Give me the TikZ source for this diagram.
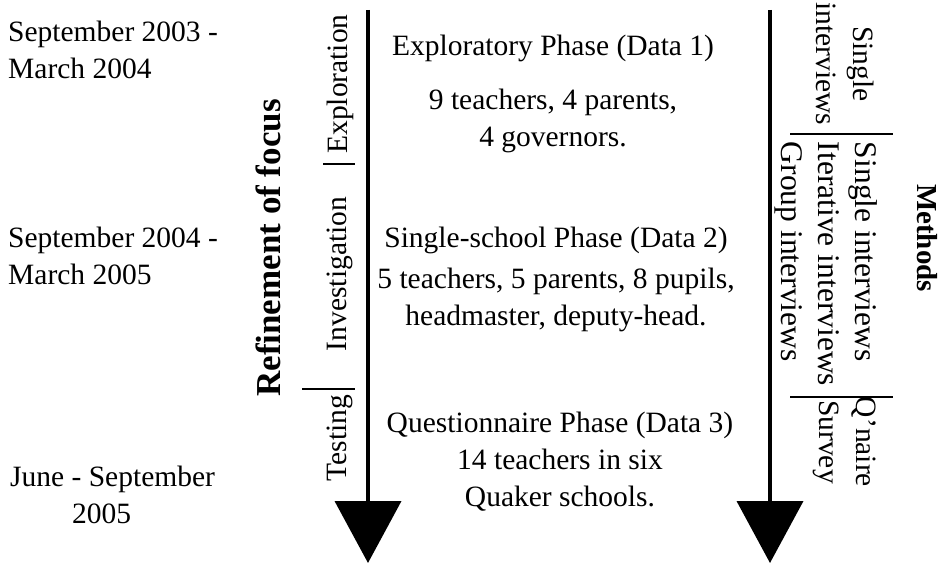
\documentclass[tikz,border=0pt]{standalone}
\usepackage{fontspec}
\setmainfont{Liberation Serif}
\usetikzlibrary{positioning,arrows.meta}

\tikzset{
  lbl/.style={font=\fontsize{29.5}{37}\selectfont, inner sep=0pt, align=center},
  upword/.style={lbl, rotate=90},
  downword/.style={lbl, rotate=-90},
  heading/.style={font=\fontsize{30}{38}\selectfont\bfseries, inner sep=0pt},
  bar/.style={line width=1.6pt},
  timeline/.style={line width=4pt, -{Triangle[width=66pt,length=62pt]}}
}

\begin{document}
\begin{tikzpicture}[x=1pt, y=-1pt, node distance=8pt]
    \useasboundingbox (0,0) rectangle (943,564);

    % the two time lines
    \coordinate (ltop) at (368,10);
    \coordinate (lbot) at (368,563);
    \coordinate (rtop) at (770,10);
    \coordinate (rbot) at (770,563);
    \draw [timeline] (ltop) -- (lbot);
    \draw [timeline] (rtop) -- (rbot);

    % dates
    \node [lbl, align=left, anchor=west] (date1) at (8,50) {September 2003 -\\March 2004};
    \node [lbl, align=left, anchor=west] (date2) at (8,256) {September 2004 -\\March 2005};
    \node [lbl, align=left, anchor=west] (date3) at (10,495) {June - September\\\hspace*{62pt}2005};

    % refinement of focus
    \node [heading, font=\fontsize{35}{40}\selectfont\bfseries, rotate=90] (focus) at (268,248) {Refinement of focus};
    \node [upword] (explo) at (340,84) {Exploration};
    \node [upword] (inves) at (340,274) {Investigation};
    \node [upword] (testg) at (340,438) {Testing};
    \draw [bar] (323,164) -- (355,164);
    \draw [bar] (302,389) -- (355,389);

    % phases
    \node [lbl] (ph1) at (553,48) {Exploratory Phase (Data 1)};
    \node [lbl, below=27pt of ph1] (who1) {9 teachers, 4 parents,\\4 governors.};
    \node [lbl] (ph2) at (556,240) {Single-school Phase (Data 2)};
    \node [lbl, below=14pt of ph2] (who2) {5 teachers, 5 parents, 8 pupils,\\headmaster, deputy-head.};
    \node [lbl] (ph3) at (560,425) {Questionnaire Phase (Data 3)};
    \node [lbl, below=10pt of ph3] (who3) {14 teachers in six\\Quaker schools.};

    % methods
    \node [downword] (meth1) at (845,64) {Single\\interviews};
    \draw [bar] (790,134) -- (893,134);
    \node [downword, font=\fontsize{31.5}{37}\selectfont, align=left] (meth2) at (826,264) {Single interviews\\Iterative interviews\\Group interviews};
    \draw [bar] (790,397) -- (893,397);
    \node [downword] (meth3) at (845,442) {Q'naire\\Survey};
    \node [heading, font=\fontsize{29}{36}\selectfont\bfseries, rotate=-90] (methods) at (927,238) {Methods};
\end{tikzpicture}
\end{document}
